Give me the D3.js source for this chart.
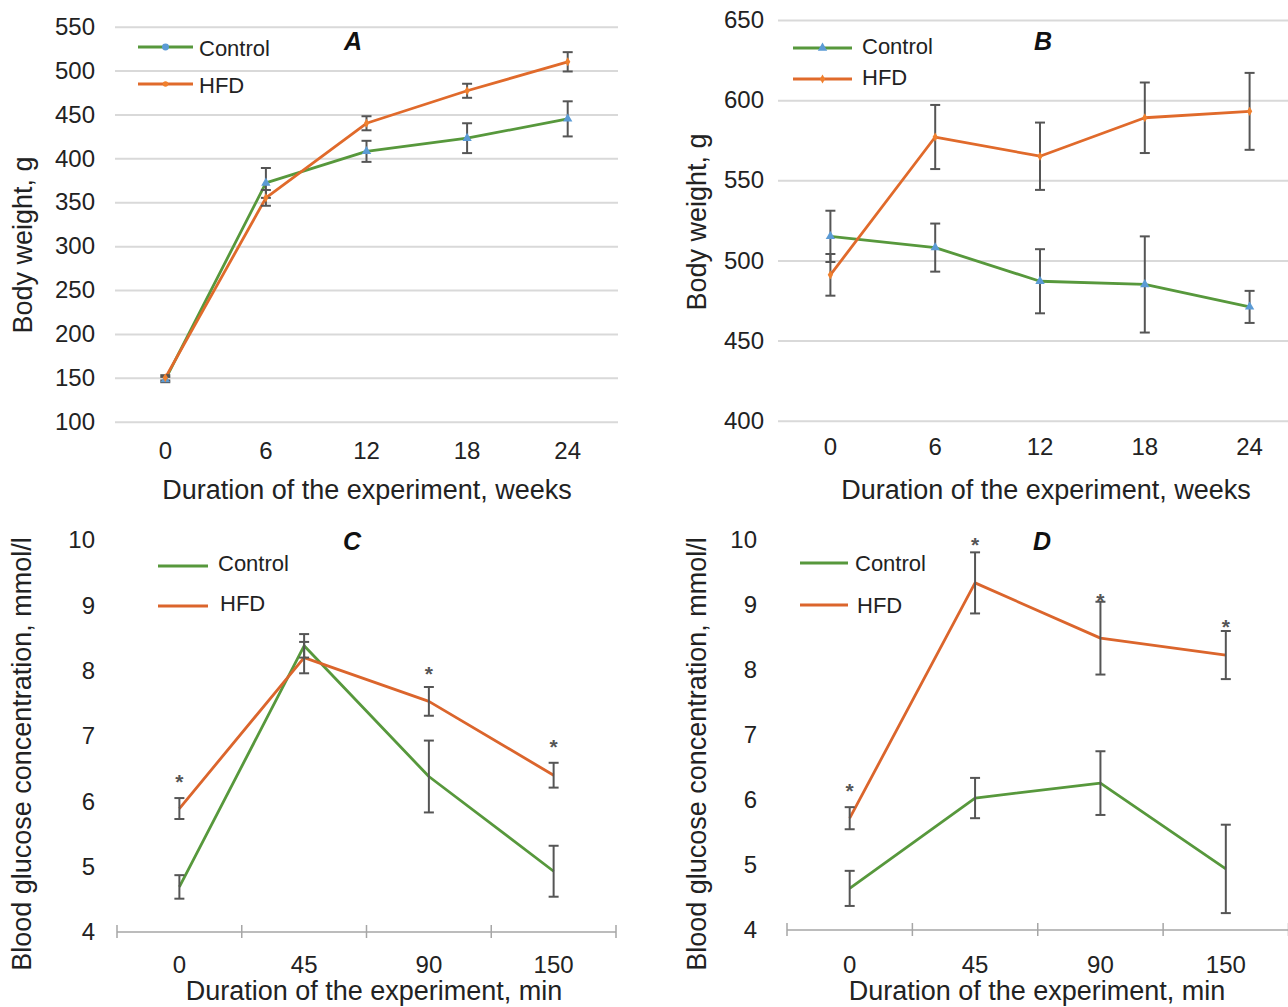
<!DOCTYPE html>
<html>
<head>
<meta charset="utf-8">
<script src="https://cdn.jsdelivr.net/npm/d3@7"></script>
<style>
body{margin:0;background:#fff;}
svg{display:block;font-family:"Liberation Sans",Arial,sans-serif;}
</style>
</head>
<body>
<div id="chart"></div>
<script>
`use strict`;

// A: body weight, weeks
const weeks = ['0', '6', '12', '18', '24'];
const weightTicksA = [100, 150, 200, 250, 300, 350, 400, 450, 500, 550];
const controlWeightA = [148, 372, 408, 423, 445];
const controlErrA = [3, 17, 12, 17, 20];
const hfdWeightA = [150, 355, 440, 477, 510];
const hfdErrA = [3, 9, 8, 8, 11];

// B: body weight, weeks
const weightTicksB = [400, 450, 500, 550, 600, 650];
const controlWeightB = [515, 508, 487, 485, 471];
const controlErrB = [16, 15, 20, 30, 10];
const hfdWeightB = [491, 577, 565, 589, 593];
const hfdErrB = [13, 20, 21, 22, 24];

// C and D: glucose, min
const minutes = ['0', '45', '90', '150'];
const glucoseTicks = [4, 5, 6, 7, 8, 9, 10];
const controlGlucoseC = [4.69, 8.38, 6.38, 4.93];
const controlErrC = [0.18, 0.18, 0.55, 0.39];
const hfdGlucoseC = [5.89, 8.2, 7.53, 6.4];
const hfdErrC = [0.16, 0.24, 0.22, 0.19];
const starsC = [6.36, null, 8.01, 6.89];

const controlGlucoseD = [4.64, 6.03, 6.26, 4.94];
const controlErrD = [0.27, 0.31, 0.49, 0.68];
const hfdGlucoseD = [5.72, 9.34, 8.49, 8.23];
const hfdErrD = [0.17, 0.47, 0.56, 0.37];
const starsD = [6.2, 9.98, 9.12, 8.72];

const seriesNames = ['Control', 'HFD'];

let w = 1288, h = 1007;
let green = '#57983c', orange = '#e06a2b', blue = '#5b9bd5', errColor = '#555';
let textColor = '#222';

let svg = d3.select('#chart').append('svg')
    .attr('width', w).attr('height', h).attr('viewBox', `0 0 ${w} ${h}`);

let line = d3.line().x((d) => { return d.x; }).y((d) => { return d.y; });

function drawPanel(p){
    let g = svg.append('g');
    let x = d3.scaleBand().domain(p.categories).range(p.xRange);
    let y = d3.scaleLinear().domain(p.yDomain).range(p.yRange);
    let cx = (d) => { return x(d) + x.bandwidth() / 2; };

    //y axis, with gridlines for the weight panels
    let yAxis = d3.axisLeft(y).tickValues(p.yTicks).tickFormat(d3.format('d'))
        .tickSize(p.grid ? -(p.xRange[1] - p.xRange[0]) : 0)
        .tickPadding(p.yPad);
    let ya = g.append('g').attr('transform', `translate(${p.xRange[0]},0)`).call(yAxis);
    ya.select('.domain').remove();
    ya.selectAll('line').attr('stroke', '#d9d9d9').attr('stroke-width', 2);
    ya.selectAll('text').attr('fill', textColor).attr('font-size', 24)
        .attr('font-family', '"Liberation Sans",Arial,sans-serif');

    //x axis labels
    let xAxis = d3.axisBottom(x).tickSize(0).tickPadding(0);
    let xa = g.append('g').attr('transform', `translate(0,${p.xLabelY})`).call(xAxis);
    xa.select('.domain').remove();
    xa.selectAll('text').attr('fill', textColor).attr('font-size', 24).attr('dy', '0.35em')
        .attr('font-family', '"Liberation Sans",Arial,sans-serif');

    //category axis line with ticks between categories (glucose panels)
    if(p.axisLine){
        let y0 = y(p.yDomain[0]);
        g.append('line').attr('x1', p.xRange[0]).attr('x2', p.xRange[1])
            .attr('y1', y0).attr('y2', y0).attr('stroke', '#a6a6a6').attr('stroke-width', 1.5);
        let bounds = p.categories.map((d) => { return x(d); }).concat([p.xRange[1]]);
        g.selectAll('.cat-tick').data(bounds).enter().append('line').classed('cat-tick', true)
            .attr('x1', (d) => d).attr('x2', (d) => d)
            .attr('y1', y0 - 7).attr('y2', y0 + 6)
            .attr('stroke', '#a6a6a6').attr('stroke-width', 1.5);
    }

    //series lines
    for(let s of p.series){
        let pts = p.categories.map((c, i) => { return {x: cx(c), y: y(s.values[i])}; });
        g.append('path').datum(pts).attr('d', line)
            .attr('fill', 'none').attr('stroke', s.color).attr('stroke-width', 2.8)
            .attr('stroke-linejoin', 'round');
    }

    //error bars
    for(let s of p.series){
        p.categories.forEach((c, i) => {
            let top = y(s.values[i] + s.errors[i]), bot = y(s.values[i] - s.errors[i]);
            let xp = cx(c);
            let eb = g.append('g').attr('stroke', errColor).attr('stroke-width', 2);
            eb.append('line').attr('x1', xp).attr('x2', xp).attr('y1', top).attr('y2', bot);
            eb.append('line').attr('x1', xp - 5).attr('x2', xp + 5).attr('y1', top).attr('y2', top);
            eb.append('line').attr('x1', xp - 5).attr('x2', xp + 5).attr('y1', bot).attr('y2', bot);
        });
    }

    //markers
    for(let s of p.series){
        if(!s.marker) continue;
        g.selectAll(null).data(p.categories).enter().append('path')
            .attr('d', d3.symbol().type(s.marker).size(s.markerSize))
            .attr('transform', (c, i) => `translate(${cx(c)},${y(s.values[i])})`)
            .attr('fill', s.markerColor);
    }

    //significance marks
    if(p.stars){
        g.selectAll(null).data(p.categories).enter()
            .filter((c, i) => p.stars[i] !== null)
            .append('text').text('*')
            .attr('x', (c) => cx(c))
            .attr('y', (c) => y(p.stars[p.categories.indexOf(c)]) + 11)
            .attr('text-anchor', 'middle').attr('font-size', 21).attr('font-weight', 'bold')
            .attr('fill', '#555');
    }

    //legend
    p.series.forEach((s, i) => {
        let ly = p.legend.y[i];
        g.append('line').attr('x1', p.legend.x1).attr('x2', p.legend.x2)
            .attr('y1', ly).attr('y2', ly).attr('stroke', s.color).attr('stroke-width', p.legend.width);
        if(s.legendMarker){
            g.append('path').attr('d', d3.symbol().type(s.legendMarker).size(s.markerSize))
                .attr('transform', `translate(${(p.legend.x1 + p.legend.x2) / 2},${ly})`)
                .attr('fill', s.markerColor);
        }
        g.append('text').text(s.name).attr('x', p.legend.tx[i]).attr('y', ly + p.legend.dy)
            .attr('font-size', 22).attr('fill', textColor);
    });

    //panel letter
    g.append('text').text(p.letter).attr('x', p.letterPos[0]).attr('y', p.letterPos[1])
        .attr('text-anchor', 'middle').attr('font-size', 25).attr('font-weight', 'bold')
        .attr('font-style', 'italic').attr('fill', '#111');

    //axis titles
    g.append('text').text(p.xTitle).attr('x', p.xTitlePos[0]).attr('y', p.xTitlePos[1])
        .attr('text-anchor', 'middle').attr('dy', '0.35em').attr('font-size', 27).attr('fill', textColor);
    g.append('text').text(p.yTitle)
        .attr('transform', `translate(${p.yTitlePos[0]},${p.yTitlePos[1]}) rotate(-90)`)
        .attr('text-anchor', 'middle').attr('dy', '0.35em').attr('font-size', 27).attr('fill', textColor);
}

function weightSeries(ctrl, ctrlErr, hfd, hfdErr, legendMarkers){
    return [
        {name: seriesNames[0], values: ctrl, errors: ctrlErr, color: green, marker: d3.symbolTriangle,
            markerSize: 38, markerColor: blue, legendMarker: legendMarkers[0]},
        {name: seriesNames[1], values: hfd, errors: hfdErr, color: orange, marker: d3.symbolDiamond,
            markerSize: 24, markerColor: '#f0802e', legendMarker: legendMarkers[1]}
    ];
}

function glucoseSeries(ctrl, ctrlErr, hfd, hfdErr){
    return [
        {name: seriesNames[0], values: ctrl, errors: ctrlErr, color: green},
        {name: seriesNames[1], values: hfd, errors: hfdErr, color: '#db652c'}
    ];
}

drawPanel({
    letter: 'A', letterPos: [353, 50],
    categories: weeks, xRange: [115, 618],
    yDomain: [100, 550], yRange: [421.7, 26.7], yTicks: weightTicksA, yPad: 20, grid: true,
    xLabelY: 451,
    series: weightSeries(controlWeightA, controlErrA, hfdWeightA, hfdErrA, [d3.symbolCircle, d3.symbolCircle]),
    legend: {x1: 138, x2: 193, y: [47, 84], tx: [199, 199], dy: 9, width: 2.8},
    xTitle: 'Duration of the experiment, weeks', xTitlePos: [367, 490],
    yTitle: 'Body weight, g', yTitlePos: [23, 245]
});

drawPanel({
    letter: 'B', letterPos: [1043, 50],
    categories: weeks, xRange: [778, 1302],
    yDomain: [400, 650], yRange: [420.7, 20], yTicks: weightTicksB, yPad: 14, grid: true,
    xLabelY: 447,
    series: weightSeries(controlWeightB, controlErrB, hfdWeightB, hfdErrB, [d3.symbolTriangle, d3.symbolDiamond]),
    legend: {x1: 793, x2: 852, y: [48, 79], tx: [862, 862], dy: 6, width: 2.8},
    xTitle: 'Duration of the experiment, weeks', xTitlePos: [1046, 490],
    yTitle: 'Body weight, g', yTitlePos: [697, 222]
});

drawPanel({
    letter: 'C', letterPos: [352, 550],
    categories: minutes, xRange: [117, 616],
    yDomain: [4, 10], yRange: [932, 540], yTicks: glucoseTicks, yPad: 22, grid: false,
    xLabelY: 965, axisLine: true, stars: starsC,
    series: glucoseSeries(controlGlucoseC, controlErrC, hfdGlucoseC, hfdErrC),
    legend: {x1: 158, x2: 208, y: [566, 606], tx: [218, 220], dy: 5, width: 3},
    xTitle: 'Duration of the experiment, min', xTitlePos: [374, 991],
    yTitle: 'Blood glucose concentration, mmol/l', yTitlePos: [22, 754]
});

drawPanel({
    letter: 'D', letterPos: [1042, 550],
    categories: minutes, xRange: [787, 1288.5],
    yDomain: [4, 10], yRange: [930, 540], yTicks: glucoseTicks, yPad: 30, grid: false,
    xLabelY: 965, axisLine: true, stars: starsD,
    series: glucoseSeries(controlGlucoseD, controlErrD, hfdGlucoseD, hfdErrD),
    legend: {x1: 800, x2: 848, y: [563, 605], tx: [855, 857], dy: 8, width: 2.8},
    xTitle: 'Duration of the experiment, min', xTitlePos: [1037, 991],
    yTitle: 'Blood glucose concentration, mmol/l', yTitlePos: [697, 754]
});
</script>
</body>
</html>
